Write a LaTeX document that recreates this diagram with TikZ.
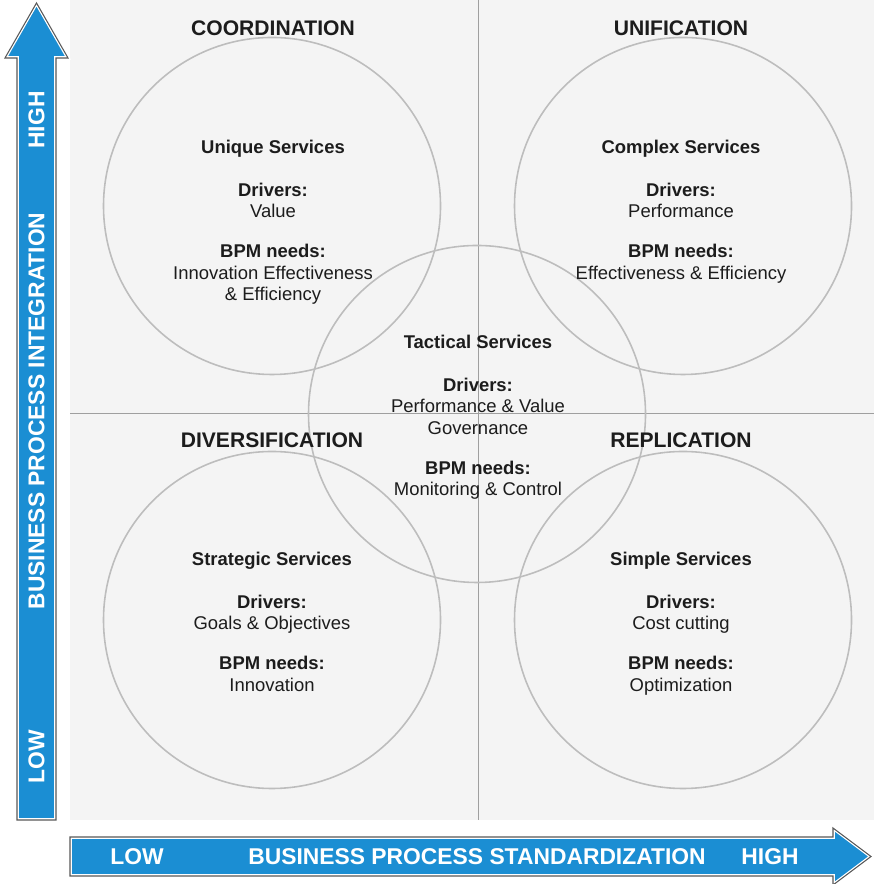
\documentclass[tikz,border=0pt]{standalone}
\usepackage{fontspec}
\setmainfont{Liberation Sans}
\usetikzlibrary{positioning}
\definecolor{axisblue}{HTML}{1B8ED3}
\definecolor{panelgray}{HTML}{F4F4F4}
\definecolor{ringgray}{HTML}{BDBDBD}
\definecolor{textgray}{HTML}{1C1C1C}
\begin{document}
\begin{tikzpicture}
\tikzstyle{quad} = [font=\fontsize{12}{14}\selectfont\bfseries, text=textgray] % quadrant heading
\tikzstyle{ring} = [circle, draw=ringgray, line width=0.9pt, minimum size=6.74cm, inner sep=0pt] % service circle
\tikzstyle{svc} = [anchor=north, align=center, inner sep=0pt, text=textgray, font=\fontsize{10.5}{12.2}\selectfont] % text inside circle
\tikzstyle{axislabel} = [font=\fontsize{13}{15}\selectfont\bfseries, text=white] % text on the arrows

\useasboundingbox (0,0) rectangle (17.48,17.68);

% background panel and the two dividing lines
\fill[panelgray] (1.4,1.28) rectangle (17.48,17.68);
\draw[gray!75, line width=0.5pt] (9.56,1.28) -- (9.56,17.68);
\draw[gray!75, line width=0.5pt] (1.4,9.42) -- (17.48,9.42);

% circles
\node[ring] (uniq) at (5.44,13.56) {};
\node[ring] (cplx) at (13.66,13.56) {};
\node[ring] (tact) at (9.54,9.40) {};
\node[ring] (strat) at (5.44,5.28) {};
\node[ring] (simp) at (13.66,5.28) {};

% quadrant headings
\node[quad] (coord) at (5.46,17.12) {COORDINATION};
\node[quad] (unif) at (13.62,17.12) {UNIFICATION};
\node[quad] (divers) at (5.44,8.88) {DIVERSIFICATION};
\node[quad] (repl) at (13.62,8.88) {REPLICATION};

% texts in the circles
\node[svc] (uniqtxt) at (5.46,14.89) {\textbf{Unique Services}\\[12.3pt]
    \textbf{Drivers:}\\ Value\\[10.6pt]
    \textbf{BPM needs:}\\ Innovation Effectiveness\\ \& Efficiency};
\node[svc] (cplxtxt) at (13.62,14.89) {\textbf{Complex Services}\\[12.3pt]
    \textbf{Drivers:}\\ Performance\\[10.6pt]
    \textbf{BPM needs:}\\ Effectiveness \& Efficiency};
\node[svc] (tacttxt) at (9.56,10.99) {\textbf{Tactical Services}\\[12.3pt]
    \textbf{Drivers:}\\ Performance \& Value\\ Governance\\[10.6pt]
    \textbf{BPM needs:}\\ Monitoring \& Control};
\node[svc] (strattxt) at (5.44,6.65) {\textbf{Strategic Services}\\[12.3pt]
    \textbf{Drivers:}\\ Goals \& Objectives\\[10.6pt]
    \textbf{BPM needs:}\\ Innovation};
\node[svc] (simptxt) at (13.62,6.65) {\textbf{Simple Services}\\[12.3pt]
    \textbf{Drivers:}\\ Cost cutting\\[10.6pt]
    \textbf{BPM needs:}\\ Optimization};

% vertical axis arrow
\path[fill=axisblue, draw=white, line width=2pt, line join=miter]
    (0.34,1.28) -- (0.34,16.52) -- (0.1,16.52) -- (0.73,17.62) -- (1.36,16.52)
    -- (1.12,16.52) -- (1.12,1.28) -- cycle;
\draw[black!65, line width=0.6pt, line join=miter]
    (0.34,1.28) -- (0.34,16.52) -- (0.1,16.52) -- (0.73,17.62) -- (1.36,16.52)
    -- (1.12,16.52) -- (1.12,1.28) -- cycle;
\node[axislabel, rotate=90] (ylow) at (0.73,2.54) {LOW};
\node[axislabel, rotate=90] (yname) at (0.73,9.46) {BUSINESS PROCESS INTEGRATION};
\node[axislabel, rotate=90] (yhigh) at (0.73,15.28) {HIGH};

% horizontal axis arrow
\path[fill=axisblue, draw=white, line width=2pt, line join=miter]
    (1.4,0.94) -- (16.66,0.94) -- (16.66,1.12) -- (17.42,0.55) -- (16.66,-0.02)
    -- (16.66,0.16) -- (1.4,0.16) -- cycle;
\draw[black!65, line width=0.6pt, line join=miter]
    (1.4,0.94) -- (16.66,0.94) -- (16.66,1.12) -- (17.42,0.55) -- (16.66,-0.02)
    -- (16.66,0.16) -- (1.4,0.16) -- cycle;
\node[axislabel] (xlow) at (2.74,0.55) {LOW};
\node[axislabel] (xname) at (9.54,0.55) {BUSINESS PROCESS STANDARDIZATION};
\node[axislabel] (xhigh) at (15.4,0.55) {HIGH};
\end{tikzpicture}
\end{document}
